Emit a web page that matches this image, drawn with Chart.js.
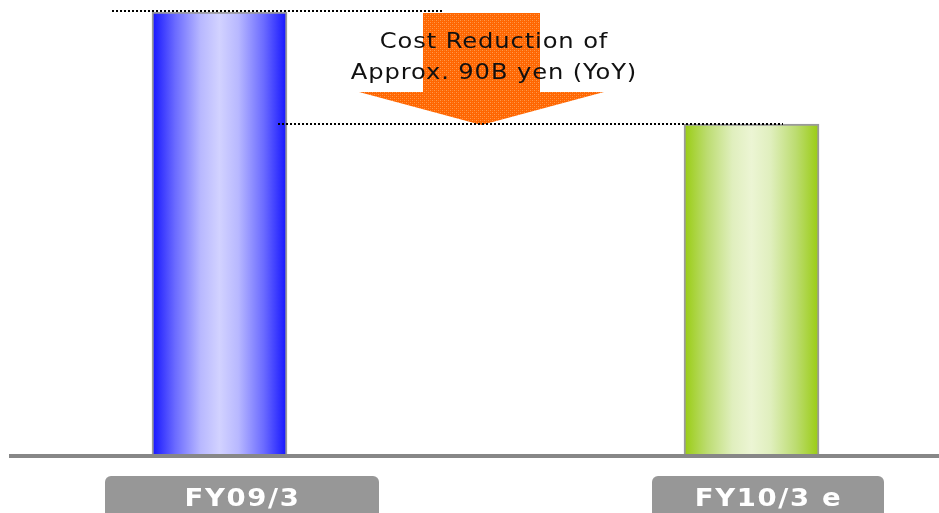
<!DOCTYPE html>
<html>
<head>
<meta charset="utf-8">
<script src="https://cdn.jsdelivr.net/npm/chart.js@4/dist/chart.umd.min.js"></script>
<style>
  html, body { margin: 0; padding: 0; background: #ffffff; }
  #wrap { width: 939px; height: 513px; position: relative; }
</style>
</head>
<body>
<div id="wrap"><canvas id="c" width="939" height="513"></canvas></div>
<script>
// ---- data ----
const categories = ['FY09/3', 'FY10/3 e'];
const costValues = [356, 266];            // relative cost level (B yen, estimated)
const annotationLines = ['Cost Reduction of', 'Approx. 90B yen (YoY)'];

// ---- styling helpers ----
const BAR_W = 135;
const gradStops = [
  ['#1414ff', '#6a6aff', '#b8b8ff', '#d2d2ff'],
  ['#99cc11', '#bcdc70', '#e0efbe', '#ecf5d4']
];

function makePattern(ctx) {
  const p = document.createElement('canvas');
  p.width = 4; p.height = 4;
  const pc = p.getContext('2d');
  pc.fillStyle = '#ff6600';
  pc.fillRect(0, 0, 4, 4);
  pc.fillStyle = '#ff9a4c';
  pc.fillRect(0, 0, 1, 1);
  pc.fillRect(2, 2, 1, 1);
  pc.fillStyle = '#ff7a22';
  pc.fillRect(2, 0, 1, 1);
  pc.fillRect(0, 2, 1, 1);
  return ctx.createPattern(p, 'repeat');
}

function drawScaledText(ctx, text, cx, y, sx) {
  ctx.save();
  ctx.translate(cx, y);
  ctx.scale(sx, 1);
  ctx.fillText(text, 0, 0);
  ctx.restore();
}

const decorPlugin = {
  id: 'decor',
  afterDatasetsDraw(chart) {
    const ctx = chart.ctx;
    const xs = chart.scales.x, ys = chart.scales.y;
    const x0 = xs.getPixelForValue(0), x1 = xs.getPixelForValue(1);
    const yTop0 = Math.round(ys.getPixelForValue(costValues[0]));
    const yTop1 = Math.round(ys.getPixelForValue(costValues[1]));
    const yBase = ys.getPixelForValue(0);

    // baseline axis
    ctx.save();
    ctx.strokeStyle = '#878787';
    ctx.lineWidth = 4;
    ctx.beginPath();
    ctx.moveTo(9, Math.round(yBase) + 1);
    ctx.lineTo(939, Math.round(yBase) + 1);
    ctx.stroke();
    ctx.restore();

    // arrow
    const ax = Math.round((x0 + x1) / 2 - 5) + 0.5;
    const headTop = 92;
    ctx.save();
    ctx.fillStyle = makePattern(ctx);
    ctx.beginPath();
    ctx.moveTo(ax - 58.5, yTop0 + 1);
    ctx.lineTo(ax + 58.5, yTop0 + 1);
    ctx.lineTo(ax + 58.5, headTop);
    ctx.lineTo(ax + 122.5, headTop);
    ctx.lineTo(ax, yTop1 + 1);
    ctx.lineTo(ax - 122.5, headTop);
    ctx.lineTo(ax - 58.5, headTop);
    ctx.closePath();
    ctx.fill();
    ctx.restore();

    // dotted reference lines
    ctx.save();
    ctx.strokeStyle = '#000000';
    ctx.lineWidth = 2;
    ctx.setLineDash([2, 2]);
    ctx.beginPath();
    ctx.moveTo(Math.round(x0 - 108), yTop0 - 1);
    ctx.lineTo(Math.round(x0 + 222), yTop0 - 1);
    ctx.moveTo(Math.round(x0 + 58), yTop1);
    ctx.lineTo(Math.round(x1 + 31), yTop1);
    ctx.stroke();
    ctx.restore();

    // annotation text
    ctx.save();
    ctx.fillStyle = '#111111';
    ctx.font = '22px "DejaVu Sans"';
    ctx.textAlign = 'center';
    ctx.textBaseline = 'alphabetic';
    try { ctx.letterSpacing = '0.8px'; } catch (e) {}
    drawScaledText(ctx, annotationLines[0], 494, 48, 1.1);
    drawScaledText(ctx, annotationLines[1], 494, 79, 1.1);
    ctx.restore();

    // category label boxes
    const boxes = [{dx: 22.5, w: 274}, {dx: 16.5, w: 232}];
    categories.forEach((lab, i) => {
      const cx = xs.getPixelForValue(i) + boxes[i].dx;
      ctx.save();
      ctx.fillStyle = '#979797';
      ctx.beginPath();
      ctx.roundRect(cx - boxes[i].w / 2, 476, boxes[i].w, 45, 6);
      ctx.fill();
      ctx.fillStyle = '#ffffff';
      ctx.font = 'bold 25px "DejaVu Sans"';
      ctx.textAlign = 'center';
      try { ctx.letterSpacing = '1.5px'; } catch (e) {}
      drawScaledText(ctx, lab, cx + 0.5, 506, 1.1);
      ctx.restore();
    });
  }
};

new Chart(document.getElementById('c'), {
  type: 'bar',
  data: {
    labels: categories,
    datasets: [{
      data: costValues,
      clip: false,
      barThickness: BAR_W,
      borderColor: '#9a9a9a',
      borderWidth: {top: 2, left: 2, right: 2, bottom: 0},
      borderSkipped: 'bottom',
      backgroundColor: (c) => {
        const chart = c.chart;
        if (!chart.chartArea) return '#8888ff';
        const x = chart.scales.x.getPixelForValue(c.dataIndex);
        const s = gradStops[c.dataIndex % gradStops.length];
        const g = chart.ctx.createLinearGradient(x - BAR_W / 2, 0, x + BAR_W / 2, 0);
        g.addColorStop(0, s[0]);
        g.addColorStop(0.17, s[1]);
        g.addColorStop(0.36, s[2]);
        g.addColorStop(0.5, s[3]);
        g.addColorStop(0.64, s[2]);
        g.addColorStop(0.83, s[1]);
        g.addColorStop(1, s[0]);
        return g;
      }
    }]
  },
  options: {
    responsive: false,
    animation: false,
    devicePixelRatio: 1,
    layout: { padding: { left: 219.5, right: 187.5, top: 12, bottom: 58 } },
    plugins: { legend: { display: false }, tooltip: { enabled: false }, title: { display: false } },
    scales: {
      x: { type: 'category', offset: false, display: false, grid: { display: false } },
      y: { display: false, min: 0, max: costValues[0], grid: { display: false } }
    }
  },
  plugins: [decorPlugin]
});
</script>
</body>
</html>
